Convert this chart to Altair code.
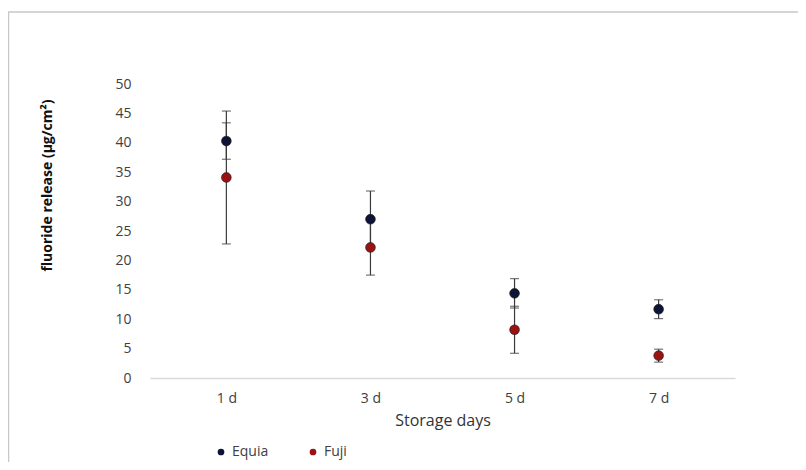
import altair as alt
import pandas as pd

days = ["1 d", "3 d", "5 d", "7 d"]
series = ["Equia", "Fuji"]
equia_mean = [40.3, 27.0, 14.4, 11.7]
equia_sd = [3.1, 4.8, 2.5, 1.6]
fuji_mean = [34.1, 22.2, 8.2, 3.8]
fuji_sd = [11.3, 4.7, 4.0, 1.1]
y_ticks = [0, 5, 10, 15, 20, 25, 30, 35, 40, 45, 50]
colors = ["#0f1436", "#9b1212"]

rows = []
for name, means, sds in [("Equia", equia_mean, equia_sd), ("Fuji", fuji_mean, fuji_sd)]:
    for d, m, s in zip(days, means, sds):
        rows.append({"day": d, "series": name, "mean": m, "lo": m - s, "hi": m + s})
df = pd.DataFrame(rows)

FONT = "Open Sans"
x_scale = alt.Scale(type="point", padding=0.53)
y_scale = alt.Scale(domain=[0, 50], nice=False)

x_axis = alt.Axis(
    title="Storage days",
    labelAngle=0,
    domain=True,
    domainColor="#d9d9d9",
    domainWidth=1.5,
    ticks=False,
    labelPadding=13,
    labelFont=FONT,
    labelFontSize=14,
    labelColor="#404040",
    titleFont=FONT,
    titleFontSize=16,
    titleFontWeight="normal",
    titleColor="#333333",
    titlePadding=7,
)
y_axis = alt.Axis(
    title="fluoride release (µg/cm²)",
    values=y_ticks,
    labelOverlap=False,
    domain=False,
    ticks=False,
    grid=False,
    labelPadding=19,
    labelFont=FONT,
    labelFontSize=14,
    labelColor="#404040",
    titleFont=FONT,
    titleFontSize=14,
    titleFontWeight="bold",
    titleColor="#111111",
    titleAngle=270,
    titleX=-103,
    titleY=101,
    titleAlign="center",
    titleBaseline="middle",
)


def X():
    return alt.X("day:N", sort=days, scale=x_scale, axis=x_axis)


def Y(field):
    return alt.Y(field, type="quantitative", scale=y_scale, axis=y_axis)


base = alt.Chart(df)

bars = base.mark_rule(color="#3a3a3a", strokeWidth=1.2).encode(
    x=X(), y=Y("lo"), y2="hi:Q"
)
caps_lo = base.mark_tick(color="#3a3a3a", thickness=1.2, size=9).encode(
    x=X(), y=Y("lo")
)
caps_hi = base.mark_tick(color="#3a3a3a", thickness=1.2, size=9).encode(
    x=X(), y=Y("hi")
)

points = base.mark_circle(size=95, opacity=1, stroke="#1a1a1a", strokeWidth=0.6).encode(
    x=X(),
    y=Y("mean"),
    color=alt.Color(
        "series:N",
        scale=alt.Scale(domain=series, range=colors),
        legend=alt.Legend(
            orient="none",
            legendX=64,
            legendY=361,
            direction="horizontal",
            title=None,
            symbolType="circle",
            symbolSize=45,
            symbolStrokeWidth=0,
            labelFont=FONT,
            labelFontSize=14,
            labelColor="#404040",
            columnPadding=37,
            labelOffset=4,
        ),
    ),
)

frame = alt.Chart(pd.DataFrame({"f": [0]})).mark_rect(
    fill=None, stroke="#c8c8c8", strokeWidth=1.5
).encode(
    x=alt.value(-141.5), x2=alt.value(700), y=alt.value(-72), y2=alt.value(500)
)

chart = alt.layer(frame, bars, caps_lo, caps_hi, points).properties(
    width=585,
    height=294,
    autosize=alt.AutoSizeParams(type="none"),
    padding={"left": 142, "top": 76, "right": 63, "bottom": 84},
).configure_view(stroke=None).configure_axisY(labelOverlap=False)

chart.save("out.html", embed_options={"renderer": "svg", "actions": False})
